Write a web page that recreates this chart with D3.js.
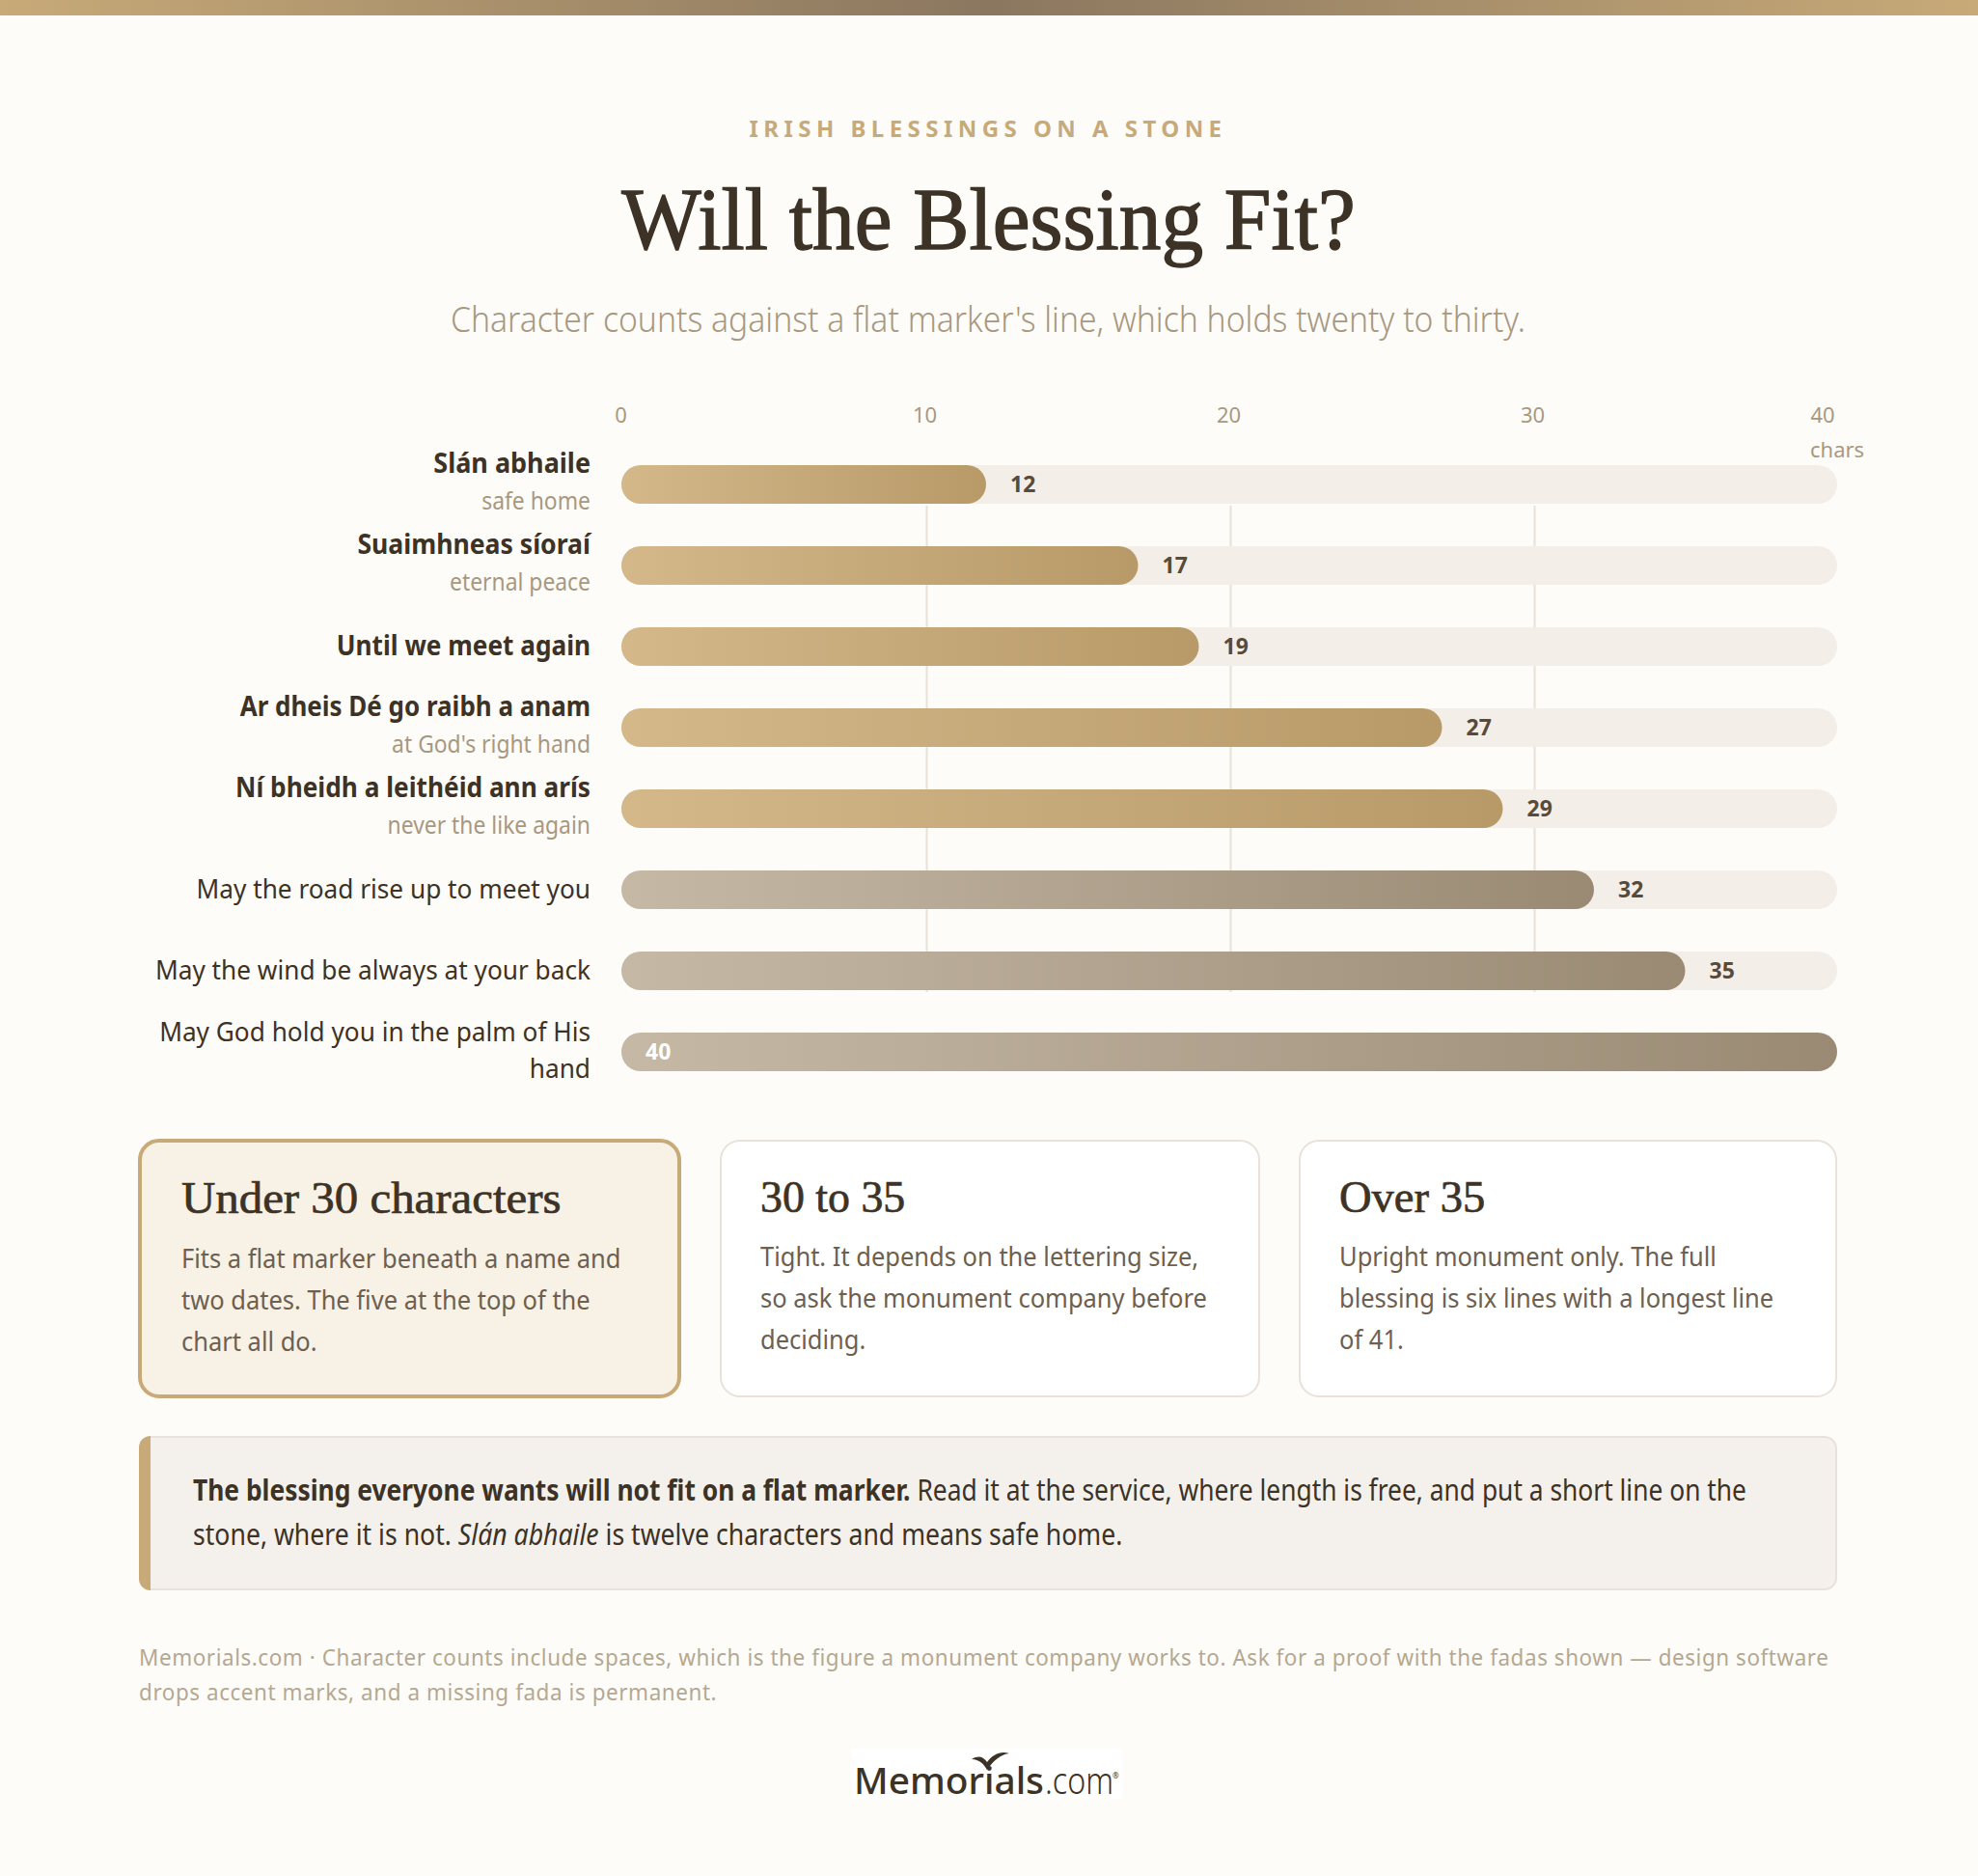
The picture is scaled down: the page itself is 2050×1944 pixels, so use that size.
<!DOCTYPE html>
<html>
<head>
<meta charset="utf-8">
<script src="https://cdn.jsdelivr.net/npm/d3@7"></script>
<style>
html, body { margin: 0; padding: 0; background: #fdfcf9; }
svg { display: block; }
text { font-family: "Noto Sans", sans-serif; }
.serif { font-family: "Liberation Serif", serif; }
</style>
</head>
<body>
<script>
// blessings, top to bottom
var blessings = ["Slán abhaile", "Suaimhneas síoraí", "Until we meet again", "Ar dheis Dé go raibh a anam",
    "Ní bheidh a leithéid ann arís", "May the road rise up to meet you", "May the wind be always at your back",
    "May God hold you in the palm of His hand"];
var meanings = ["safe home", "eternal peace", "", "at God's right hand", "never the like again", "", "", ""];
var charCounts = [12, 17, 19, 27, 29, 32, 35, 40];
var shortOnes = [true, true, true, true, true, false, false, false];
var axisTicks = [0, 10, 20, 30, 40];

var cardTitles = ["Under 30 characters", "30 to 35", "Over 35"];
var cardBodies = [
    ["Fits a flat marker beneath a name and", "two dates. The five at the top of the", "chart all do."],
    ["Tight. It depends on the lettering size,", "so ask the monument company before", "deciding."],
    ["Upright monument only. The full", "blessing is six lines with a longest line", "of 41."]];

var W = 2050, H = 1944;
var svg = d3.select("body").append("svg").attr("width", W).attr("height", H);
var defs = svg.append("defs");

// squeeze a text to k of its natural width, the installed sans is wider than the original
function squeeze(sel, k) {
    sel.each(function () {
        var len = this.getComputedTextLength();
        d3.select(this).attr("textLength", len * k).attr("lengthAdjust", "spacingAndGlyphs");
    });
    return sel;
}

function gradient(id, stops) {
    var g = defs.append("linearGradient").attr("id", id);
    stops.forEach(function (s) {
        g.append("stop").attr("offset", s[0]).attr("stop-color", s[1]);
    });
}
gradient("topbar", [[0, "#c8aa78"], [0.5, "#8b7760"], [1, "#c8aa78"]]);
gradient("gold", [[0, "#d4b88a"], [1, "#b89a68"]]);
gradient("stone", [[0, "#c5b9a6"], [1, "#9a8a74"]]);

svg.append("rect").attr("width", W).attr("height", H).attr("fill", "#fdfcf9");
svg.append("rect").attr("width", W).attr("height", 16).attr("fill", "url(#topbar)");

// header
svg.append("text").attr("x", W / 2 - 1).attr("y", 142).attr("text-anchor", "middle")
    .attr("font-size", 24).attr("font-weight", 700).attr("letter-spacing", 5.45).attr("fill", "#c8aa78")
    .text("IRISH BLESSINGS ON A STONE");
squeeze(svg.append("text").attr("class", "serif").attr("x", 1024.5).attr("y", 258).attr("text-anchor", "middle")
    .attr("font-size", 92).attr("stroke", "#3d3226").attr("stroke-width", 1.4).attr("fill", "#3d3226")
    .text("Will the Blessing Fit?"), 0.949);
squeeze(svg.append("text").attr("x", 1024).attr("y", 344).attr("text-anchor", "middle")
    .attr("font-size", 36).attr("font-weight", 300).attr("fill", "#a89880")
    .text("Character counts against a flat marker's line, which holds twenty to thirty."), 0.936);

// chart
var x = d3.scaleLinear().domain([0, 40]).range([644, 1904]);
var y = d3.scaleBand().domain(blessings).range([482, 1110]).paddingInner(44 / 84).paddingOuter(0);
var barH = y.bandwidth();

var xAxis = d3.axisTop(x).tickValues(axisTicks).tickSize(0).tickPadding(0);
var axisG = svg.append("g").attr("transform", "translate(0,438)").call(xAxis);
axisG.select(".domain").remove();
axisG.selectAll("text").attr("font-size", 22).attr("fill", "#a89880").attr("dy", 0)
    .attr("font-family", "Noto Sans").attr("text-anchor", function (d) { return d === 40 ? "start" : "middle"; })
    .attr("x", function (d) { return d === 40 ? -28 : -1; });
svg.append("text").attr("x", 1876).attr("y", 474).attr("font-size", 22).attr("fill", "#a89880").text("chars");

svg.selectAll("line.grid").data(axisTicks.slice(1, 4)).enter().append("line")
    .attr("class", "grid")
    .attr("x1", function (d) { return x(d) + 1.5; }).attr("x2", function (d) { return x(d) + 1.5; })
    .attr("y1", 524).attr("y2", 1028)
    .attr("stroke", "#e8e1d8").attr("stroke-width", 2);

var rows = svg.selectAll("g.row").data(blessings).enter().append("g").attr("class", "row");
rows.append("rect").attr("x", x(0)).attr("y", function (d) { return y(d); })
    .attr("width", x(40) - x(0)).attr("height", barH).attr("rx", 20).attr("fill", "#f3eee8");
rows.append("rect").attr("x", x(0)).attr("y", function (d) { return y(d); })
    .attr("width", function (d, i) { return x(charCounts[i]) - x(0); })
    .attr("height", barH).attr("rx", 20)
    .attr("fill", function (d, i) { return shortOnes[i] ? "url(#gold)" : "url(#stone)"; });

rows.append("text")
    .attr("x", function (d, i) { return charCounts[i] === 40 ? x(0) + 25 : x(charCounts[i]) + 25; })
    .attr("y", function (d) { return y(d) + 28; })
    .attr("font-size", 23).attr("font-weight", 700)
    .attr("fill", function (d, i) { return charCounts[i] === 40 ? "#ffffff" : "#5a4a3a"; })
    .text(function (d, i) { return charCounts[i]; });

// row labels, bold ones fit, the wrapped one gets two lines
var labelX = 612;
var boldFit = [0.963, 0.95, 0.935, 0.927, 0.937];
rows.each(function (d, i) {
    var row = d3.select(this), top = y(d);
    if (shortOnes[i]) {
        var base = meanings[i] ? top + 8 : top + 29;
        squeeze(row.append("text").attr("x", labelX).attr("y", base).attr("text-anchor", "end")
            .attr("font-size", 28).attr("font-weight", 700).attr("fill", "#3d3226").text(d), boldFit[i]);
        if (meanings[i]) {
            squeeze(row.append("text").attr("x", labelX).attr("y", top + 46).attr("text-anchor", "end")
                .attr("font-size", 25).attr("fill", "#a89880").text(meanings[i]), 0.915);
        }
    } else if (charCounts[i] === 40) {
        squeeze(row.append("text").attr("x", labelX).attr("y", top + 9).attr("text-anchor", "end")
            .attr("font-size", 28).attr("fill", "#3d3226").text("May God hold you in the palm of His"), 0.936);
        squeeze(row.append("text").attr("x", labelX).attr("y", top + 47).attr("text-anchor", "end")
            .attr("font-size", 28).attr("fill", "#3d3226").text("hand"), 0.936);
    } else {
        squeeze(row.append("text").attr("x", labelX).attr("y", top + 29).attr("text-anchor", "end")
            .attr("font-size", 28).attr("fill", "#3d3226").text(d), 0.936);
    }
});

// cards
var cardX = [145, 747, 1347], cardR = [704, 1305, 1903];
var titleFit = [1.04, 0.975, 0.99];
var cards = svg.selectAll("g.card").data(cardTitles).enter().append("g").attr("class", "card");
cards.append("rect")
    .attr("x", function (d, i) { return cardX[i]; }).attr("y", 1182)
    .attr("width", function (d, i) { return cardR[i] - cardX[i]; }).attr("height", 265).attr("rx", 20)
    .attr("fill", function (d, i) { return i === 0 ? "#f8f1e6" : "#ffffff"; })
    .attr("stroke", function (d, i) { return i === 0 ? "#c8aa78" : "#e8e2da"; })
    .attr("stroke-width", function (d, i) { return i === 0 ? 4 : 2; });
cards.each(function (d, i) {
    var g = d3.select(this);
    squeeze(g.append("text").attr("class", "serif").attr("x", [188, 788, 1388][i]).attr("y", i === 0 ? 1257 : 1256)
        .attr("font-size", 47).attr("stroke", "#3d3226").attr("stroke-width", 0.7).attr("fill", "#3d3226")
        .text(d), titleFit[i]);
    cardBodies[i].forEach(function (line, j) {
        squeeze(g.append("text").attr("x", [188, 788, 1388][i]).attr("y", (i === 0 ? 1314 : 1312) + j * 43)
            .attr("font-size", 28).attr("fill", "#6e5f4f").text(line), 0.91);
    });
});

// callout
var callout = svg.append("g");
callout.append("rect").attr("x", 145).attr("y", 1489).attr("width", 1758).attr("height", 158).attr("rx", 12)
    .attr("fill", "#f4f1ec").attr("stroke", "#e8e2da").attr("stroke-width", 2);
callout.append("path").attr("d", "M156,1488 V1648 A12,12 0 0 1 144,1636 V1500 A12,12 0 0 1 156,1488 Z")
    .attr("fill", "#c8aa78");
var line1 = callout.append("text").attr("x", 200).attr("y", 1555).attr("font-size", 30).attr("fill", "#3d3226");
line1.append("tspan").attr("font-weight", 700).text("The blessing everyone wants will not fit on a flat marker.");
line1.append("tspan").text(" Read it at the service, where length is free, and put a short line on the");
squeeze(line1, 0.879);
var line2 = callout.append("text").attr("x", 200).attr("y", 1601).attr("font-size", 30).attr("fill", "#3d3226");
line2.append("tspan").text("stone, where it is not. ");
line2.append("tspan").attr("font-style", "italic").text("Slán abhaile");
line2.append("tspan").text(" is twelve characters and means safe home.");
squeeze(line2, 0.887);

// footer
squeeze(svg.append("text").attr("x", 144).attr("y", 1726).attr("font-size", 24).attr("fill", "#b5a892")
    .attr("letter-spacing", 0.6)
    .text("Memorials.com · Character counts include spaces, which is the figure a monument company works to. Ask for a proof with the fadas shown — design software"), 0.935);
squeeze(svg.append("text").attr("x", 144).attr("y", 1762).attr("font-size", 24).attr("fill", "#b5a892")
    .attr("letter-spacing", 0.6)
    .text("drops accent marks, and a missing fada is permanent."), 0.936);

// logo
var logo = svg.append("g");
logo.append("rect").attr("x", 883).attr("y", 1812).attr("width", 280).attr("height", 52).attr("fill", "#ffffff");
logo.append("text").attr("x", 885).attr("y", 1859).attr("font-family", "Inter").attr("font-size", 38)
    .attr("font-weight", 500).attr("fill", "#3d3226").attr("textLength", 197).attr("lengthAdjust", "spacingAndGlyphs")
    .text("Memorials");
logo.append("text").attr("x", 1083).attr("y", 1859).attr("font-family", "Inter").attr("font-size", 38)
    .attr("font-weight", 300).attr("fill", "#3d3226").attr("textLength", 71).attr("lengthAdjust", "spacingAndGlyphs")
    .text(".com");
logo.append("text").attr("x", 1153).attr("y", 1843).attr("font-family", "Inter").attr("font-size", 8)
    .attr("fill", "#3d3226").text("®");
logo.append("path").attr("d", "M1007,1823 C1014,1819 1019,1820 1023,1826 C1029,1818 1037,1814 1046,1817 C1037,1818 1030,1824 1023,1834 C1019,1827 1014,1823 1007,1823 Z")
    .attr("fill", "#3d3226");
</script>
</body>
</html>
